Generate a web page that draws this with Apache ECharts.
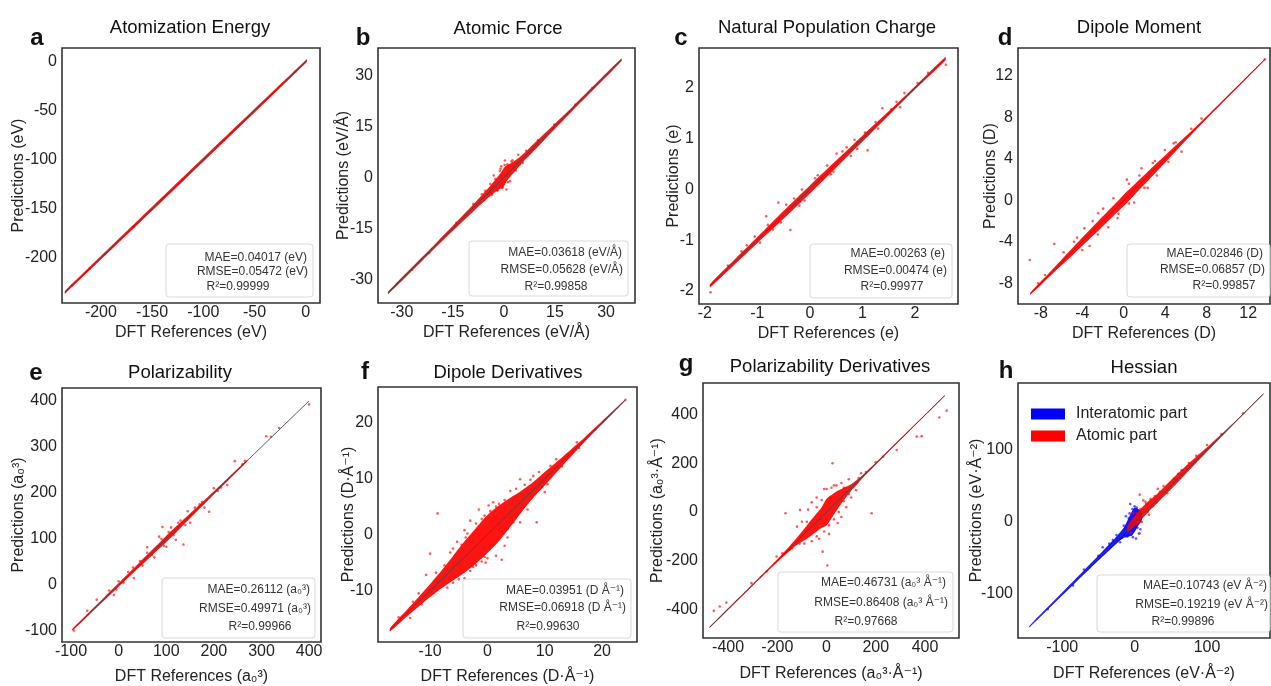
<!DOCTYPE html>
<html>
<head>
<meta charset="utf-8">
<title>DFT parity plots</title>
<script src="https://cdn.jsdelivr.net/npm/echarts@6/dist/echarts.min.js"></script>
<style>
  html, body { margin: 0; padding: 0; background: #fff; }
  #chart { width: 1271px; height: 686px; }
</style>
</head>
<body>
<div id="chart"></div>
<script>
// ---- tick labels ----
const ticksA = [-200, -150, -100, -50, 0];
const ticksB = [-30, -15, 0, 15, 30];
const ticksC = [-2, -1, 0, 1, 2];
const ticksD = [-8, -4, 0, 4, 8, 12];
const ticksE = [-100, 0, 100, 200, 300, 400];
const ticksF = [-10, 0, 10, 20];
const ticksG = [-400, -200, 0, 200, 400];
const ticksH = [-100, 0, 100];

// ---- y = x reference line ends ----
const diagA = [-235, 1];
const diagB = [-34, 34.5];
const diagC = [-1.9, 2.58];
const diagD = [-9, 13.6];
const diagE = [-97, 400];
const diagF = [-17, 24];
const diagG = [-475, 480];
const diagH = [-145, 178];

// ---- dense core of each cloud: [reference, lowest prediction, highest prediction] ----
const bandA = [[-235, -236.5, -233.5], [1, -0.5, 2.5]];
const bandB = [[-34, -34.4, -33.6], [-20, -20.6, -19.4], [-12, -12.9, -11.1], [-8, -9.1, -6.9], [-6, -7.3, -4.7],
  [-4, -5.5, -2.5], [-2, -3.9, -0.1], [-1, -3.3, 1.2], [0, -2.6, 2.8], [1, -0.9, 3.6], [2, 0.3, 4.1],
  [4, 2.6, 5.4], [6, 4.9, 7.1], [8, 6.9, 9.1], [12, 11.1, 12.9], [20, 19.4, 20.6], [34.5, 34.1, 34.9]];
const bandC = [[-1.9, -1.93, -1.87], [-1.4, -1.45, -1.35], [-1, -1.06, -0.94], [-0.5, -0.58, -0.42],
  [0, -0.08, 0.08], [0.5, 0.43, 0.57], [1, 0.94, 1.06], [1.5, 1.46, 1.54], [2, 1.97, 2.03], [2.58, 2.55, 2.61]];
const bandD = [[-9, -9.1, -8.9], [-7, -7.2, -6.8], [-5, -5.35, -4.65], [-3, -3.45, -2.55], [-1, -1.5, -0.5],
  [0, -0.55, 0.55], [1, 0.5, 1.5], [2.5, 2.05, 2.95], [4, 3.65, 4.35], [6, 5.8, 6.2], [8, 7.88, 8.12], [13.6, 13.55, 13.65]];
const bandE = [[-97, -99, -95], [-60, -63, -57], [-30, -33.5, -26.5], [0, -4, 4], [40, 35, 45], [80, 74, 86],
  [100, 93, 107], [130, 124, 136], [160, 155, 165], [190, 186, 194], [230, 227, 233], [270, 268, 272]];
const bandF = [[-17, -17.3, -16.7], [-14, -14.6, -13.4], [-11, -12.0, -10.0], [-8, -9.6, -6.4], [-6, -8.2, -3.8],
  [-4, -6.8, -1.2], [-2, -5.2, 1.2], [0, -3.3, 3.5], [2, -1.2, 5.2], [4, 1.4, 6.6], [6, 4.1, 7.9],
  [8, 6.6, 9.4], [10, 8.8, 11.2], [13, 12.2, 13.8], [17, 16.6, 17.4], [24, 23.9, 24.1]];
const bandG = [[-475, -478, -472], [-300, -304, -296], [-200, -206, -194], [-150, -160, -140], [-120, -135, -105],
  [-100, -122, -80], [-80, -110, -55], [-60, -95, -30], [-40, -80, -5], [-20, -65, 20], [0, -55, 55],
  [20, -25, 70], [40, 5, 85], [60, 35, 95], [80, 62, 105], [100, 88, 115], [120, 110, 130], [150, 144, 156],
  [220, 216, 224], [480, 478, 482]];
const bandHInter = [[-145, -146, -144], [-100, -102, -98], [-60, -63, -57], [-40, -44, -36], [-25, -30, -20],
  [-15, -22, -8], [-8, -20, 6], [-3, -18, 16], [0, -14, 20], [5, -5, 18], [10, 2, 14]];
const bandHAtomic = [[-10, -14, -6], [0, -6, 8], [5, -2, 14], [10, 4, 20], [20, 15, 30], [30, 25, 38],
  [50, 45, 58], [70, 66, 77], [90, 87, 95], [110, 108, 113], [140, 139, 141], [178, 177.5, 178.5]];

// ---- scattered points outside the dense core: [reference, prediction] ----
const pointsA = [[-228, -228], [-211, -211], [-196, -196], [-168, -168], [-152, -152], [-120, -120], [-80, -80], [-40, -40], [-10, -10]];
const pointsB = [[-0.8, 3.2], [0.7, -3.6], [-2.5, -0.5], [2.2, 4.6], [-1.2, 1.8], [1.8, -1.2], [4.2, 6.6], [-4, -2.0],
  [-6.5, -5.0], [6.5, 7.8], [-9, -7.9], [10, 10.9], [-14, -13.4], [14.8, 15.5], [-22, -22.3], [21, 21.4],
  [26, 26.2], [-27, -27.2], [0.3, 4.9], [-1.9, -3.9], [-3, 0.5], [-1, 2.5], [1, 3.8], [2.5, 5.0], [3.5, 2.0],
  [1.2, -1.5], [-0.5, -3.2], [-2, -3.8], [-3.5, -5.2], [0.2, 3.6], [-0.3, -2.9], [5.5, 4.2], [-5.5, -4.0]];
const pointsC = [[-0.37, -0.80], [-0.83, -0.53], [-0.60, -0.26], [1.10, 0.77], [0.51, 0.71], [1.38, 1.60], [2.59, 2.46],
  [-1.89, -2.03], [-1.56, -1.50], [0.24, 0.20], [-1.30, -1.22], [-1.05, -0.93], [-0.45, -0.30], [-0.20, -0.32],
  [0.10, 0.22], [0.40, 0.30], [0.62, 0.75], [0.85, 0.98], [0.78, 0.66], [1.25, 1.33], [1.65, 1.73], [1.72, 1.62],
  [2.05, 2.10], [-0.70, -0.79], [-0.95, -1.05], [-0.15, 0.0], [0.33, 0.47], [1.05, 1.12], [1.55, 1.58], [2.25, 2.30],
  [-0.3, -0.18], [-0.1, -0.22], [0.15, 0.28], [0.45, 0.35], [0.7, 0.83], [0.9, 0.8], [-0.8, -0.7], [-1.2, -1.1],
  [-0.55, -0.65], [1.3, 1.2], [1.8, 1.9]];
const pointsD = [[-9.06, -5.75], [-6.7, -4.2], [3.96, 4.86], [5.57, 4.7], [1.7, 3.1], [-2.47, -1.25], [-8.26, -8.0],
  [7.5, 7.9], [13.6, 13.6], [-4.5, -3.6], [-3.3, -4.4], [-2.0, -0.8], [-1.5, -2.6], [0.5, 1.6], [1.0, -0.2],
  [2.8, 3.6], [3.2, 2.4], [4.8, 5.5], [-5.8, -5.0], [-7.6, -7.2], [0.3, 2.0], [-0.6, -1.7], [2.3, 1.2], [6.5, 6.9], [-3.8, -2.7],
  [-1, 0.2], [-0.5, -1.3], [0.5, -0.3], [1.5, 2.4], [2, 1.2], [-2.5, -3.3], [-3, -2.0], [-4, -4.8], [-4.8, -4.0],
  [3, 3.8], [4.3, 3.7], [5, 5.6]];
const pointsE = [[92, 126], [136, 88], [190, 159], [32, 15], [208, 204], [228, 217], [310, 323], [337, 341], [400, 392],
  [244, 269], [-46, -32], [-66, -56], [-94, -99], [60, 82], [75, 60], [110, 125], [120, 98], [145, 160], [150, 135],
  [170, 175], [180, 168], [200, 210], [215, 212], [-20, -12], [-10, -22], [20, 28], [50, 42], [85, 105], [100, 83],
  [260, 262], [320, 322], [265, 270], [90, 100], [105, 115], [95, 85], [115, 108], [130, 140], [140, 130], [60, 70],
  [70, 65], [45, 52], [30, 38], [10, 5], [0, 8], [-5, -10], [160, 168], [175, 180], [125, 135]];
const pointsF = [[-8.7, 3.8], [8.6, 2.2], [2.5, -4.5], [-5.3, -1.3], [-10, -3.4], [0.2, 5.2], [5.7, 2.2], [15.6, 16.5],
  [18.8, 18.8], [24.1, 24.1], [-13.5, -14.9], [-10.7, -7.2], [5.7, 9.9], [-3, 2.5], [-1.5, 4.5], [1.5, -3.8], [3, -2],
  [-4, -7.8], [-6.5, -3.2], [4, 7.8], [7, 4.5], [9, 11.2], [-2.5, -5.8], [1, 5.8], [-7, -9.5], [10, 7.6], [12, 13.5],
  [-12, -10.5], [-15.5, -14.8], [6.5, 8.9], [3.5, 1.0], [-1, -4.8], [-0.5, 3.4], [2, 5.5], [-3.8, -0.5], [4.5, 2.2],
  [13, 12.2], [16, 15.5], [-9, -6.8], [-0.3, -5.0], [-6, -2.5], [-4.5, -1.8], [-3.5, 0.2], [-2, 2.0], [-1, 2.8],
  [0.5, 4.2], [1.5, 5.0], [3, 6.2], [4, 3.0], [2.5, 0.5], [1, -1.8], [-0.5, -4.0], [-2, -5.5], [-3, -6.5], [-5, -8.0],
  [-7.5, -5.5], [6, 4.8], [7.5, 9.8], [9.5, 8.5], [11, 12.3], [-11.5, -12.5], [-13, -12.0], [5, 8.2], [-4, 0.8],
  [0, -4.2], [3.5, -0.5], [-6, -8.6], [8, 10.5], [10.5, 9.0]];
const pointsG = [[24, 201], [-167, -5], [-108, 9], [183, -5], [-16, -163], [3, -220], [-458, -407], [-434, -389],
  [-407, -373], [-305, -293], [488, 418], [458, 390], [366, 311], [386, 313], [285, 256], [-244, -245], [-203, -183],
  [-60, 40], [-40, 60], [60, -20], [80, 20], [100, 60], [120, 90], [-120, -60], [-90, -130], [-30, -110], [30, 110],
  [130, 140], [160, 165], [200, 205], [230, 228], [-150, -155], [-180, -170], [-75, 10], [45, -45], [10, -90],
  [-10, 95], [90, 135], [-100, -40], [70, 100], [-40, 20], [-20, 50], [0, 95], [20, 100], [40, 110], [60, 120],
  [-60, -120], [-40, -100], [-10, -80], [10, -55], [30, -30], [50, 0], [-80, -40], [-110, -130], [70, 45], [90, 75],
  [140, 160], [-140, -150], [15, 60], [-25, -30]];
const pointsHInter = [[-7, 12], [2, -23], [-2.3, -21], [-44, -35], [-15, -5], [-20, -28], [-30, -25], [-6, 25], [3, 20],
  [-12, 8], [8, -10], [-50, -47], [-70, -66], [-85, -88], [-120, -121], [6, -16], [-3, -12], [-10, -20], [-5, -18],
  [0, 22], [-3, 18], [-8, 5], [4, -8], [-18, -22], [-25, -18], [-35, -30], [-14, -18]];
const pointsHAtomic = [[7, 38], [16, 25], [32, 46], [7, -16], [-5, -15], [12, 30], [25, 22], [40, 50], [60, 67],
  [85, 92], [100, 107], [120, 122], [20, 10], [-2, 12], [45, 40], [150, 151], [3, 12], [8, 18], [15, 28], [22, 32],
  [28, 36], [35, 42], [55, 60], [65, 72], [75, 82], [10, 0], [18, 14], [30, 27]];

const FONT = "'Liberation Sans', Arial, 'DejaVu Sans', sans-serif";
const RED = '#ff0000';
const BLUE = '#0000ff';

const panels = [
  { letter: 'a', title: 'Atomization Energy', grid: [62, 48, 258, 255], xr: [-238, 14], yr: [-246, 14],
    xt: ticksA, yt: ticksA, xName: 'DFT References (eV)', yName: 'Predictions (eV)', xGap: 22, yGap: 35,
    titleAt: [190, 28], letterAt: [37, 38], diag: diagA,
    stats: ['MAE=0.04017 (eV)', 'RMSE=0.05472 (eV)', 'R²=0.99999'],
    box: [166, 244, 147, 53], statAt: [[307, 258], [308, 272], [238, 287]],
    layers: [{ name: 'a', color: RED, band: bandA, points: pointsA }] },
  { letter: 'b', title: 'Atomic Force', grid: [378, 48, 257, 255], xr: [-37, 38.5], yr: [-37, 38],
    xt: ticksB, yt: ticksB, xName: 'DFT References (eV/Å)', yName: 'Predictions (eV/Å)', xGap: 22, yGap: 26,
    titleAt: [508, 29], letterAt: [363, 38], diag: diagB,
    stats: ['MAE=0.03618 (eV/Å)', 'RMSE=0.05628 (eV/Å)', 'R²=0.99858'],
    box: [469, 241, 159, 55], statAt: [[622, 253], [623, 270], [556, 287]],
    layers: [{ name: 'b', color: RED, band: bandB, points: pointsB }] },
  { letter: 'c', title: 'Natural Population Charge', grid: [699, 48, 259, 256], xr: [-2.11, 2.82], yr: [-2.26, 2.79],
    xt: ticksC, yt: ticksC, xName: 'DFT References (e)', yName: 'Predictions (e)', xGap: 22, yGap: 17,
    titleAt: [827, 28], letterAt: [681, 38], diag: diagC,
    stats: ['MAE=0.00263 (e)', 'RMSE=0.00474 (e)', 'R²=0.99977'],
    box: [810, 244, 142, 54], statAt: [[945, 254], [947, 271], [892, 287]],
    layers: [{ name: 'c', color: RED, band: bandC, points: pointsC }] },
  { letter: 'd', title: 'Dipole Moment', grid: [1018, 48, 252, 256], xr: [-10.2, 14.1], yr: [-10.0, 14.7],
    xt: ticksD, yt: ticksD, xName: 'DFT References (D)', yName: 'Predictions (D)', xGap: 22, yGap: 19,
    titleAt: [1139, 28], letterAt: [1005, 38], diag: diagD,
    stats: ['MAE=0.02846 (D)', 'RMSE=0.06857 (D)', 'R²=0.99857'],
    box: [1127, 244, 143, 53], statAt: [[1263, 254], [1265, 270], [1224, 286]],
    layers: [{ name: 'd', color: RED, band: bandD, points: pointsD }] },
  { letter: 'e', title: 'Polarizability', grid: [62, 388, 259, 256], xr: [-119, 425], yr: [-124, 428],
    xt: ticksE, yt: ticksE, xName: 'DFT References (a₀³)', yName: 'Predictions (a₀³)', xGap: 27, yGap: 35,
    titleAt: [180, 373], letterAt: [36, 373], diag: diagE,
    stats: ['MAE=0.26112 (a₀³)', 'RMSE=0.49971 (a₀³)', 'R²=0.99966'],
    box: [162, 578, 153, 60], statAt: [[310, 590], [311, 609], [260, 627]],
    layers: [{ name: 'e', color: RED, band: bandE, points: pointsE }] },
  { letter: 'f', title: 'Dipole Derivatives', grid: [378, 387, 259, 257], xr: [-19.1, 26.1], yr: [-19.2, 26.4],
    xt: ticksF, yt: ticksF, xName: 'DFT References (D·Å⁻¹)', yName: 'Predictions (D·Å⁻¹)', xGap: 27, yGap: 21,
    titleAt: [508, 373], letterAt: [365, 372], diag: diagF,
    stats: ['MAE=0.03951 (D Å⁻¹)', 'RMSE=0.06918 (D Å⁻¹)', 'R²=0.99630'],
    box: [463, 579, 168, 59], statAt: [[624, 591], [626, 608], [548, 627]],
    layers: [{ name: 'f', color: RED, band: bandF, points: pointsF }] },
  { letter: 'g', title: 'Polarizability Derivatives', grid: [703, 383, 256, 255], xr: [-502, 538], yr: [-519, 532],
    xt: ticksG, yt: ticksG, xName: 'DFT References (a₀³·Å⁻¹)', yName: 'Predictions (a₀³·Å⁻¹)', xGap: 28, yGap: 37,
    titleAt: [830, 367], letterAt: [686, 364], diag: diagG,
    stats: ['MAE=0.46731 (a₀³ Å⁻¹)', 'RMSE=0.86408 (a₀³ Å⁻¹)', 'R²=0.97668'],
    box: [778, 572, 175, 60], statAt: [[946, 583], [948, 603], [866, 622]],
    layers: [{ name: 'g', color: RED, band: bandG, points: pointsG }] },
  { letter: 'h', title: 'Hessian', grid: [1018, 383, 252, 255], xr: [-161, 187], yr: [-161, 193],
    xt: ticksH, yt: ticksH, xName: 'DFT References (eV·Å⁻²)', yName: 'Predictions (eV·Å⁻²)', xGap: 28, yGap: 33,
    titleAt: [1144, 368], letterAt: [1006, 371], diag: diagH,
    stats: ['MAE=0.10743 (eV Å⁻²)', 'RMSE=0.19219 (eV Å⁻²)', 'R²=0.99896'],
    box: [1097, 575, 173, 57], statAt: [[1267, 586], [1268, 605], [1183, 622]],
    layers: [
      { name: 'Interatomic part', color: BLUE, band: bandHInter, points: pointsHInter },
      { name: 'Atomic part', color: RED, band: bandHAtomic, points: pointsHAtomic }
    ] }
];

// polygon through the upper and lower edge of a band, placed by the axes
function bandSeries(name, gi, band, color) {
  return {
    type: 'custom', name: name, xAxisIndex: gi, yAxisIndex: gi, silent: true, z: 2,
    itemStyle: { color: color },
    data: [[band[0][0], band[0][1]]],
    renderItem: function (params, api) {
      const upper = band.map(r => api.coord([r[0], r[2]]));
      const lower = band.slice().reverse().map(r => api.coord([r[0], r[1]]));
      return { type: 'polygon', shape: { points: upper.concat(lower), smooth: 0.25 },
        style: { fill: color, opacity: 0.92 } };
    }
  };
}

const grid = [], xAxis = [], yAxis = [], series = [], graphic = [];

panels.forEach((p, i) => {
  grid.push({ left: p.grid[0], top: p.grid[1], width: p.grid[2], height: p.grid[3],
    show: true, borderColor: '#333', borderWidth: 1.6, backgroundColor: 'transparent' });
  const axisCommon = {
    type: 'value', gridIndex: i,
    axisLine: { show: false }, axisTick: { show: false }, splitLine: { show: false },
    nameLocation: 'middle', nameMoveOverlap: false,
    nameTextStyle: { fontSize: 16, color: '#222', fontFamily: FONT }
  };
  xAxis.push(Object.assign({}, axisCommon, {
    min: p.xr[0], max: p.xr[1], name: p.xName, nameGap: p.xGap,
    axisLabel: { customValues: p.xt, fontSize: 16, color: '#222', margin: 2, fontFamily: FONT }
  }));
  yAxis.push(Object.assign({}, axisCommon, {
    min: p.yr[0], max: p.yr[1], name: p.yName, nameGap: p.yGap,
    axisLabel: { customValues: p.yt, fontSize: 16, color: '#222', margin: 5, fontFamily: FONT }
  }));

  p.layers.forEach(l => {
    series.push(bandSeries(l.name, i, l.band, l.color));
    series.push({
      type: 'scatter', name: l.name, xAxisIndex: i, yAxisIndex: i, silent: true, z: 2,
      symbolSize: 2.6, itemStyle: { color: l.color, opacity: 0.65 }, data: l.points
    });
  });
  series.push({
    type: 'line', name: 'y=x ' + p.letter, xAxisIndex: i, yAxisIndex: i, silent: true, z: 3,
    symbol: 'none', lineStyle: { color: '#444', width: 1, opacity: 0.85 },
    data: [[p.diag[0], p.diag[0]], [p.diag[1], p.diag[1]]]
  });

  // panel title and letter
  graphic.push({ type: 'text', x: p.titleAt[0], y: p.titleAt[1], z: 20,
    style: { text: p.title, fontSize: 18.5, fontFamily: FONT, fill: '#111',
      textAlign: 'center', align: 'center', textVerticalAlign: 'middle', verticalAlign: 'middle' } });
  graphic.push({ type: 'text', x: p.letterAt[0], y: p.letterAt[1], z: 20,
    style: { text: p.letter, fontSize: 24, fontWeight: 'bold', fontFamily: FONT, fill: '#111',
      textAlign: 'center', align: 'center', textVerticalAlign: 'middle', verticalAlign: 'middle' } });

  // statistics box
  graphic.push({ type: 'rect', z: 10,
    shape: { x: p.box[0], y: p.box[1], width: p.box[2], height: p.box[3], r: 3 },
    style: { fill: 'rgba(255,255,255,0.85)', stroke: '#d9d9d9', lineWidth: 1 } });
  p.stats.forEach((s, k) => {
    const al = k < 2 ? 'right' : 'center';
    graphic.push({ type: 'text', x: p.statAt[k][0], y: p.statAt[k][1], z: 11,
      style: { text: s, fontSize: 12, fontFamily: FONT, fill: '#333',
        textAlign: al, align: al, textVerticalAlign: 'middle', verticalAlign: 'middle' } });
  });
});

const chart = echarts.init(document.getElementById('chart'), null, { renderer: 'canvas' });
chart.setOption({
  animation: false,
  backgroundColor: '#fff',
  textStyle: { fontFamily: FONT },
  legend: {
    data: [
      { name: 'Interatomic part', itemStyle: { color: BLUE } },
      { name: 'Atomic part', itemStyle: { color: RED } }
    ],
    orient: 'vertical', left: 1026, top: 401, itemWidth: 34, itemHeight: 11, itemGap: 6,
    icon: 'rect', selectedMode: false,
    textStyle: { fontSize: 16, color: '#222', fontFamily: FONT, padding: [0, 0, 0, 6] }
  },
  grid: grid,
  xAxis: xAxis,
  yAxis: yAxis,
  series: series,
  graphic: graphic
});
</script>
</body>
</html>
